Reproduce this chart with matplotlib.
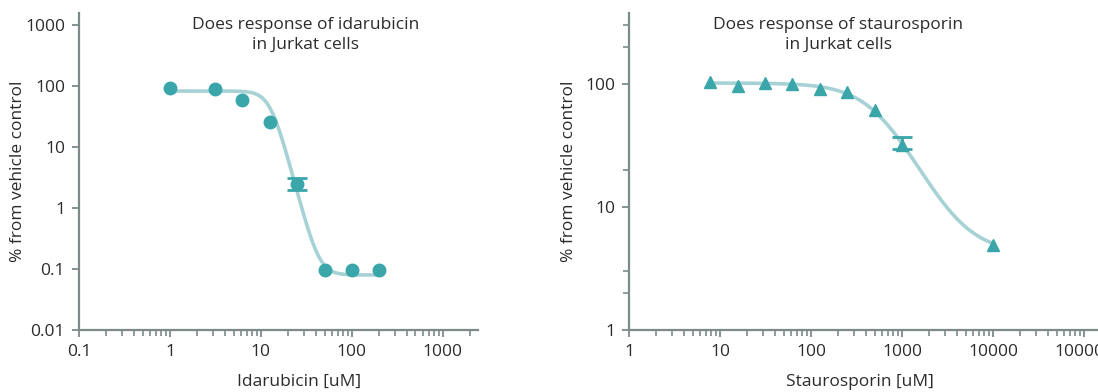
import matplotlib.pyplot as plt
import numpy as np
from matplotlib.ticker import FixedLocator, LogLocator, NullFormatter, FixedFormatter

plt.rcParams['font.family'] = ['Open Sans', 'DejaVu Sans']

# idarubicin
ida_dose = [1, 3.1, 6.25, 12.5, 25, 50, 100, 200]
ida_resp = [93, 90, 60, 26, 2.5, 0.095, 0.095, 0.095]
ida_err_lo = [0, 0, 0, 0, 0.5, 0, 0, 0]
ida_err_hi = [0, 0, 0, 0, 0.65, 0, 0, 0]
# 4PL fit: top, bottom, ic50, hill
ida_fit = (83, 0.08, 12.8, 5.7)

# staurosporin
sta_dose = [7.8, 15.6, 31.25, 62.5, 125, 250, 500, 1000, 10000]
sta_resp = [104, 97, 103, 101, 92, 87, 61.5, 31.7, 4.9]
sta_err_lo = [0, 0, 0, 0, 0, 0, 0, 2.1, 0]
sta_err_hi = [0, 0, 0, 0, 0, 0, 0, 5.2, 0]
sta_fit = (102, 4.2, 591, 1.67)

marker_c = '#3aa6aa'
line_c = '#a6d2d5'
axis_c = '#7d8a8a'
text_c = '#2b2b2b'
fs = 12.5


def four_pl(x, top, bottom, ic50, hill):
    return bottom + (top - bottom) / (1 + (x / ic50) ** hill)


def style_axes(ax):
    for s in ['top', 'right']:
        ax.spines[s].set_visible(False)
    for s in ['left', 'bottom']:
        ax.spines[s].set_color(axis_c)
        ax.spines[s].set_linewidth(1.6)
    ax.set_xscale('log')
    ax.set_yscale('log')
    ax.tick_params(which='major', length=5, width=1.3, color=axis_c, labelsize=fs, labelcolor=text_c, pad=5)
    ax.tick_params(which='minor', length=4, width=1.2, color=axis_c)
    ax.xaxis.set_minor_locator(LogLocator(base=10, subs=np.arange(2, 10), numticks=20))
    ax.xaxis.set_minor_formatter(NullFormatter())


def plot_panel(ax, dose, resp, lo, hi, fit, marker, title, xlabel):
    xs = np.logspace(np.log10(dose[0]), np.log10(dose[-1]), 300)
    ax.plot(xs, four_pl(xs, *fit), color=line_c, lw=2.6, zorder=2, solid_capstyle='round')
    ax.plot(dose, resp, marker, color=marker_c, ms=9, zorder=3)
    idx = [i for i in range(len(dose)) if lo[i] > 0 or hi[i] > 0]
    ax.errorbar([dose[i] for i in idx], [resp[i] for i in idx],
                yerr=[[lo[i] for i in idx], [hi[i] for i in idx]], fmt='none',
                ecolor=marker_c, elinewidth=2, capsize=7, capthick=2, zorder=3)
    ax.set_xlabel(xlabel, fontsize=fs, color=text_c)
    ax.set_ylabel('% from vehicle control', fontsize=fs, color=text_c)
    ax.text(0, 0.932, title, transform=ax.transAxes, ha='center', va='center',
            fontsize=fs, color=text_c, linespacing=1.3)
    style_axes(ax)
    return ax


fig = plt.figure(figsize=(10.98, 3.92), dpi=100)

ax1 = fig.add_axes([0.0719, 0.158, 0.3634, 0.8087])
plot_panel(ax1, ida_dose, ida_resp, ida_err_lo, ida_err_hi, ida_fit, 'o',
           'Does response of idarubicin\nin Jurkat cells', 'Idarubicin [uM]')
ax1.set_xlim(0.1, 2430)
ax1.set_ylim(0.01, 1575)
ax1.xaxis.set_major_locator(FixedLocator([0.1, 1, 10, 100, 1000]))
ax1.xaxis.set_major_formatter(FixedFormatter(['0.1', '1', '10', '100', '1000']))
ax1.yaxis.set_major_locator(FixedLocator([0.01, 0.1, 1, 10, 100, 1000]))
ax1.yaxis.set_major_formatter(FixedFormatter(['0.01', '0.1', '1', '10', '100', '1000']))
ax1.yaxis.set_minor_locator(FixedLocator([]))
ax1.texts[0].set_x(0.567)
ax1.xaxis.set_label_coords(0.552, -0.138)
ax1.yaxis.set_label_coords(-0.133, 0.5)

ax2 = fig.add_axes([0.5729, 0.158, 0.4558, 0.8087])
plot_panel(ax2, sta_dose, sta_resp, sta_err_lo, sta_err_hi, sta_fit, '^',
           'Does response of staurosporin\nin Jurkat cells', 'Staurosporin [uM]')
ax2.set_xlim(1, 10 ** 5.5)
ax2.set_ylim(1, 378)
ax2.xaxis.set_major_locator(FixedLocator([1, 10, 100, 1000, 10000, 100000]))
ax2.xaxis.set_major_formatter(FixedFormatter(['1', '10', '100', '1000', '10000', '100000']))
ax2.yaxis.set_major_locator(FixedLocator([1, 10, 100]))
ax2.yaxis.set_major_formatter(FixedFormatter(['1', '10', '100']))
ax2.yaxis.set_minor_locator(FixedLocator([2, 3, 20, 200, 300]))
ax2.yaxis.set_minor_formatter(NullFormatter())
ax2.texts[0].set_x(0.418)
ax2.xaxis.set_label_coords(0.462, -0.138)
ax2.yaxis.set_label_coords(-0.104, 0.5)

fig.savefig('out.png', dpi=100)
